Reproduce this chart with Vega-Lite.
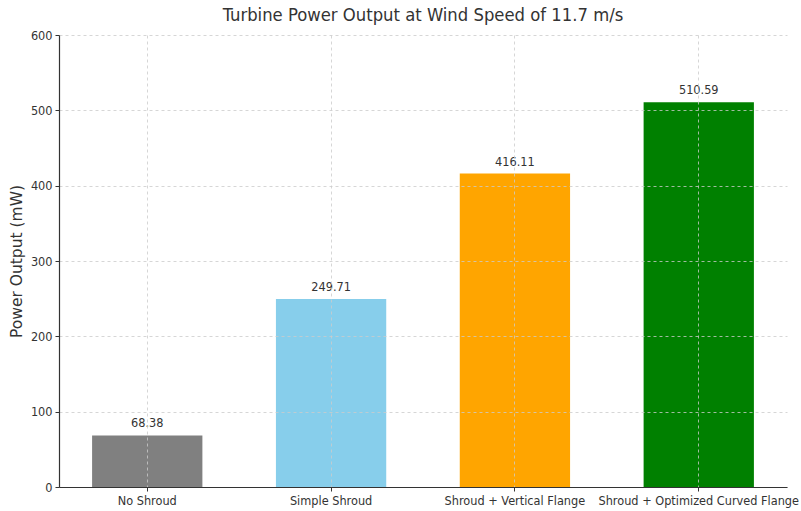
{
  "$schema": "https://vega.github.io/schema/vega-lite/v6.json",
  "autosize": {"type": "none"},
  "padding": {"left": 59, "top": 35, "right": 14, "bottom": 24},
  "width": 728,
  "height": 452,
  "background": "white",
  "config": {
    "view": {"stroke": null},
    "font": "DejaVu Sans Condensed"
  },
  "title": {
    "text": "Turbine Power Output at Wind Speed of 11.7 m/s",
    "font": "DejaVu Sans Condensed",
    "fontSize": 18.3,
    "fontWeight": "normal",
    "color": "#333333",
    "offset": 4
  },
  "data": {
    "values": [
      {"config": "No Shroud", "power": 68.38},
      {"config": "Simple Shroud", "power": 249.71},
      {"config": "Shroud + Vertical Flange", "power": 416.11},
      {"config": "Shroud + Optimized Curved Flange", "power": 510.59}
    ]
  },
  "encoding": {
    "x": {
      "field": "config",
      "type": "nominal",
      "sort": null,
      "scale": {"paddingInner": 0.4, "paddingOuter": 0.18},
      "axis": {
        "title": null,
        "labelAngle": 0,
        "labelFont": "DejaVu Sans Condensed",
        "labelFontSize": 12.6,
        "labelColor": "#333333",
        "labelPadding": 3,
        "labelLimit": 0,
        "labelOverlap": false,
        "labelBound": false,
        "tickColor": "#333333",
        "tickSize": 4,
        "domainColor": "#333333",
        "domainWidth": 1.2,
        "grid": true,
        "gridDash": [3, 3],
        "gridColor": "#cccccc",
        "gridWidth": 0.8,
        "zindex": 1
      }
    },
    "y": {
      "field": "power",
      "type": "quantitative",
      "scale": {"domain": [0, 600], "nice": false},
      "axis": {
        "title": "Power Output (mW)",
        "titleFont": "DejaVu Sans",
        "titleFontSize": 15.5,
        "titleFontWeight": "normal",
        "titleColor": "#333333",
        "titlePadding": 6,
        "values": [0, 100, 200, 300, 400, 500, 600],
        "labelFont": "DejaVu Sans Condensed",
        "labelFontSize": 12.6,
        "labelColor": "#333333",
        "labelPadding": 3,
        "tickColor": "#333333",
        "tickSize": 4,
        "domainColor": "#333333",
        "domainWidth": 1.2,
        "grid": true,
        "gridDash": [3, 3],
        "gridColor": "#cccccc",
        "gridWidth": 0.8,
        "zindex": 1
      }
    }
  },
  "layer": [
    {
      "mark": {"type": "bar"},
      "encoding": {
        "color": {
          "field": "config",
          "type": "nominal",
          "sort": null,
          "scale": {
            "domain": ["No Shroud", "Simple Shroud", "Shroud + Vertical Flange", "Shroud + Optimized Curved Flange"],
            "range": ["#808080", "#87CEEB", "#FFA500", "#008000"]
          },
          "legend": null
        }
      }
    },
    {
      "mark": {
        "type": "text",
        "baseline": "bottom",
        "dy": -5,
        "font": "DejaVu Sans Condensed",
        "fontSize": 12.6,
        "color": "#333333"
      },
      "encoding": {
        "text": {"field": "power", "type": "quantitative", "format": ".2f"}
      }
    }
  ]
}
